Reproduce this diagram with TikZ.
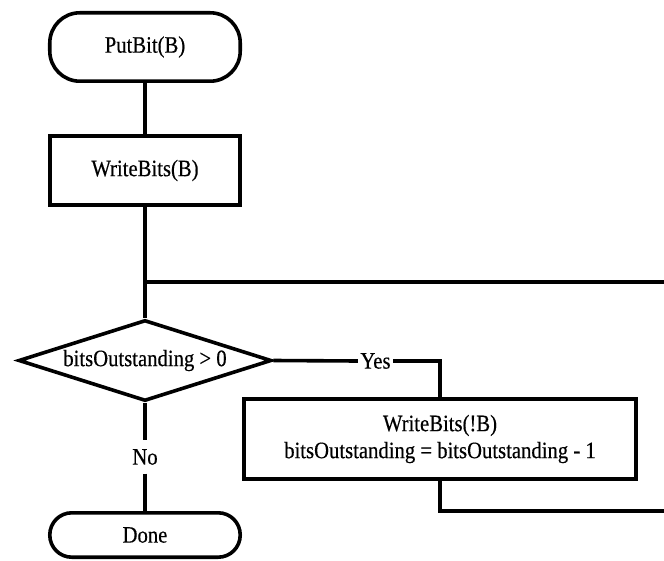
\documentclass[tikz,border=0pt]{standalone}
\usepackage{fontspec}
\setmainfont{Liberation Serif}[FakeStretch=0.88,FakeBold=0.4]
\usetikzlibrary{shapes.geometric}
\begin{document}
\begin{tikzpicture}[x=1bp,y=-1bp,
  every node/.style={font=\fontsize{23.5bp}{27bp}\selectfont},
  flow/.style={line width=3.6bp},
  terminal/.style={flow, draw, rectangle, minimum width=190.4bp, inner sep=0pt},
  process/.style={flow, draw, rectangle, inner sep=0pt},
  decision/.style={flow, draw, diamond, aspect=3, minimum width=253bp,
    minimum height=81bp, inner sep=0pt},
  lbl/.style={inner sep=0pt},
]
\useasboundingbox (0,0) rectangle (664,561);

% flowchart nodes
\node[terminal, minimum height=68.4bp, rounded corners=30bp] (start) at (145,47) {PutBit(B)};
\node[process, minimum width=189.4bp, minimum height=69.4bp] (wb) at (145,170.5) {WriteBits(B)};
\node[decision] (dec) at (145,360.5) {bitsOutstanding > 0};
\node[process, minimum width=392.4bp, minimum height=80.4bp, align=center] (body) at (440,439)
  {WriteBits(!B)\\bitsOutstanding = bitsOutstanding - 1};
\node[terminal, minimum height=44.4bp, rounded corners=22bp] (done) at (145,535) {Done};

% branch labels
\node[lbl, inner xsep=2.5bp] (yes) at (375.5,361) {Yes};
\node[lbl, minimum height=33bp] (no) at (145,457) {No};

% loop junction and the loop lines leaving the page
\coordinate (join) at (145,282);
\coordinate (loopTop) at (664,282);
\coordinate (loopBot) at (664,511);

% connectors
\draw[flow] (start) -- (wb);
\draw[flow] (wb) -- (dec);
\draw[flow] (join) -- (loopTop);
\draw[flow] (dec.east) -- (yes.west);
\draw[flow] (yes.east) -| (body.north);
\draw[flow] (body.south) |- (loopBot);
\draw[flow] (dec.south) -- (no.north);
\draw[flow] (no.south) -- (done.north);
\end{tikzpicture}
\end{document}
